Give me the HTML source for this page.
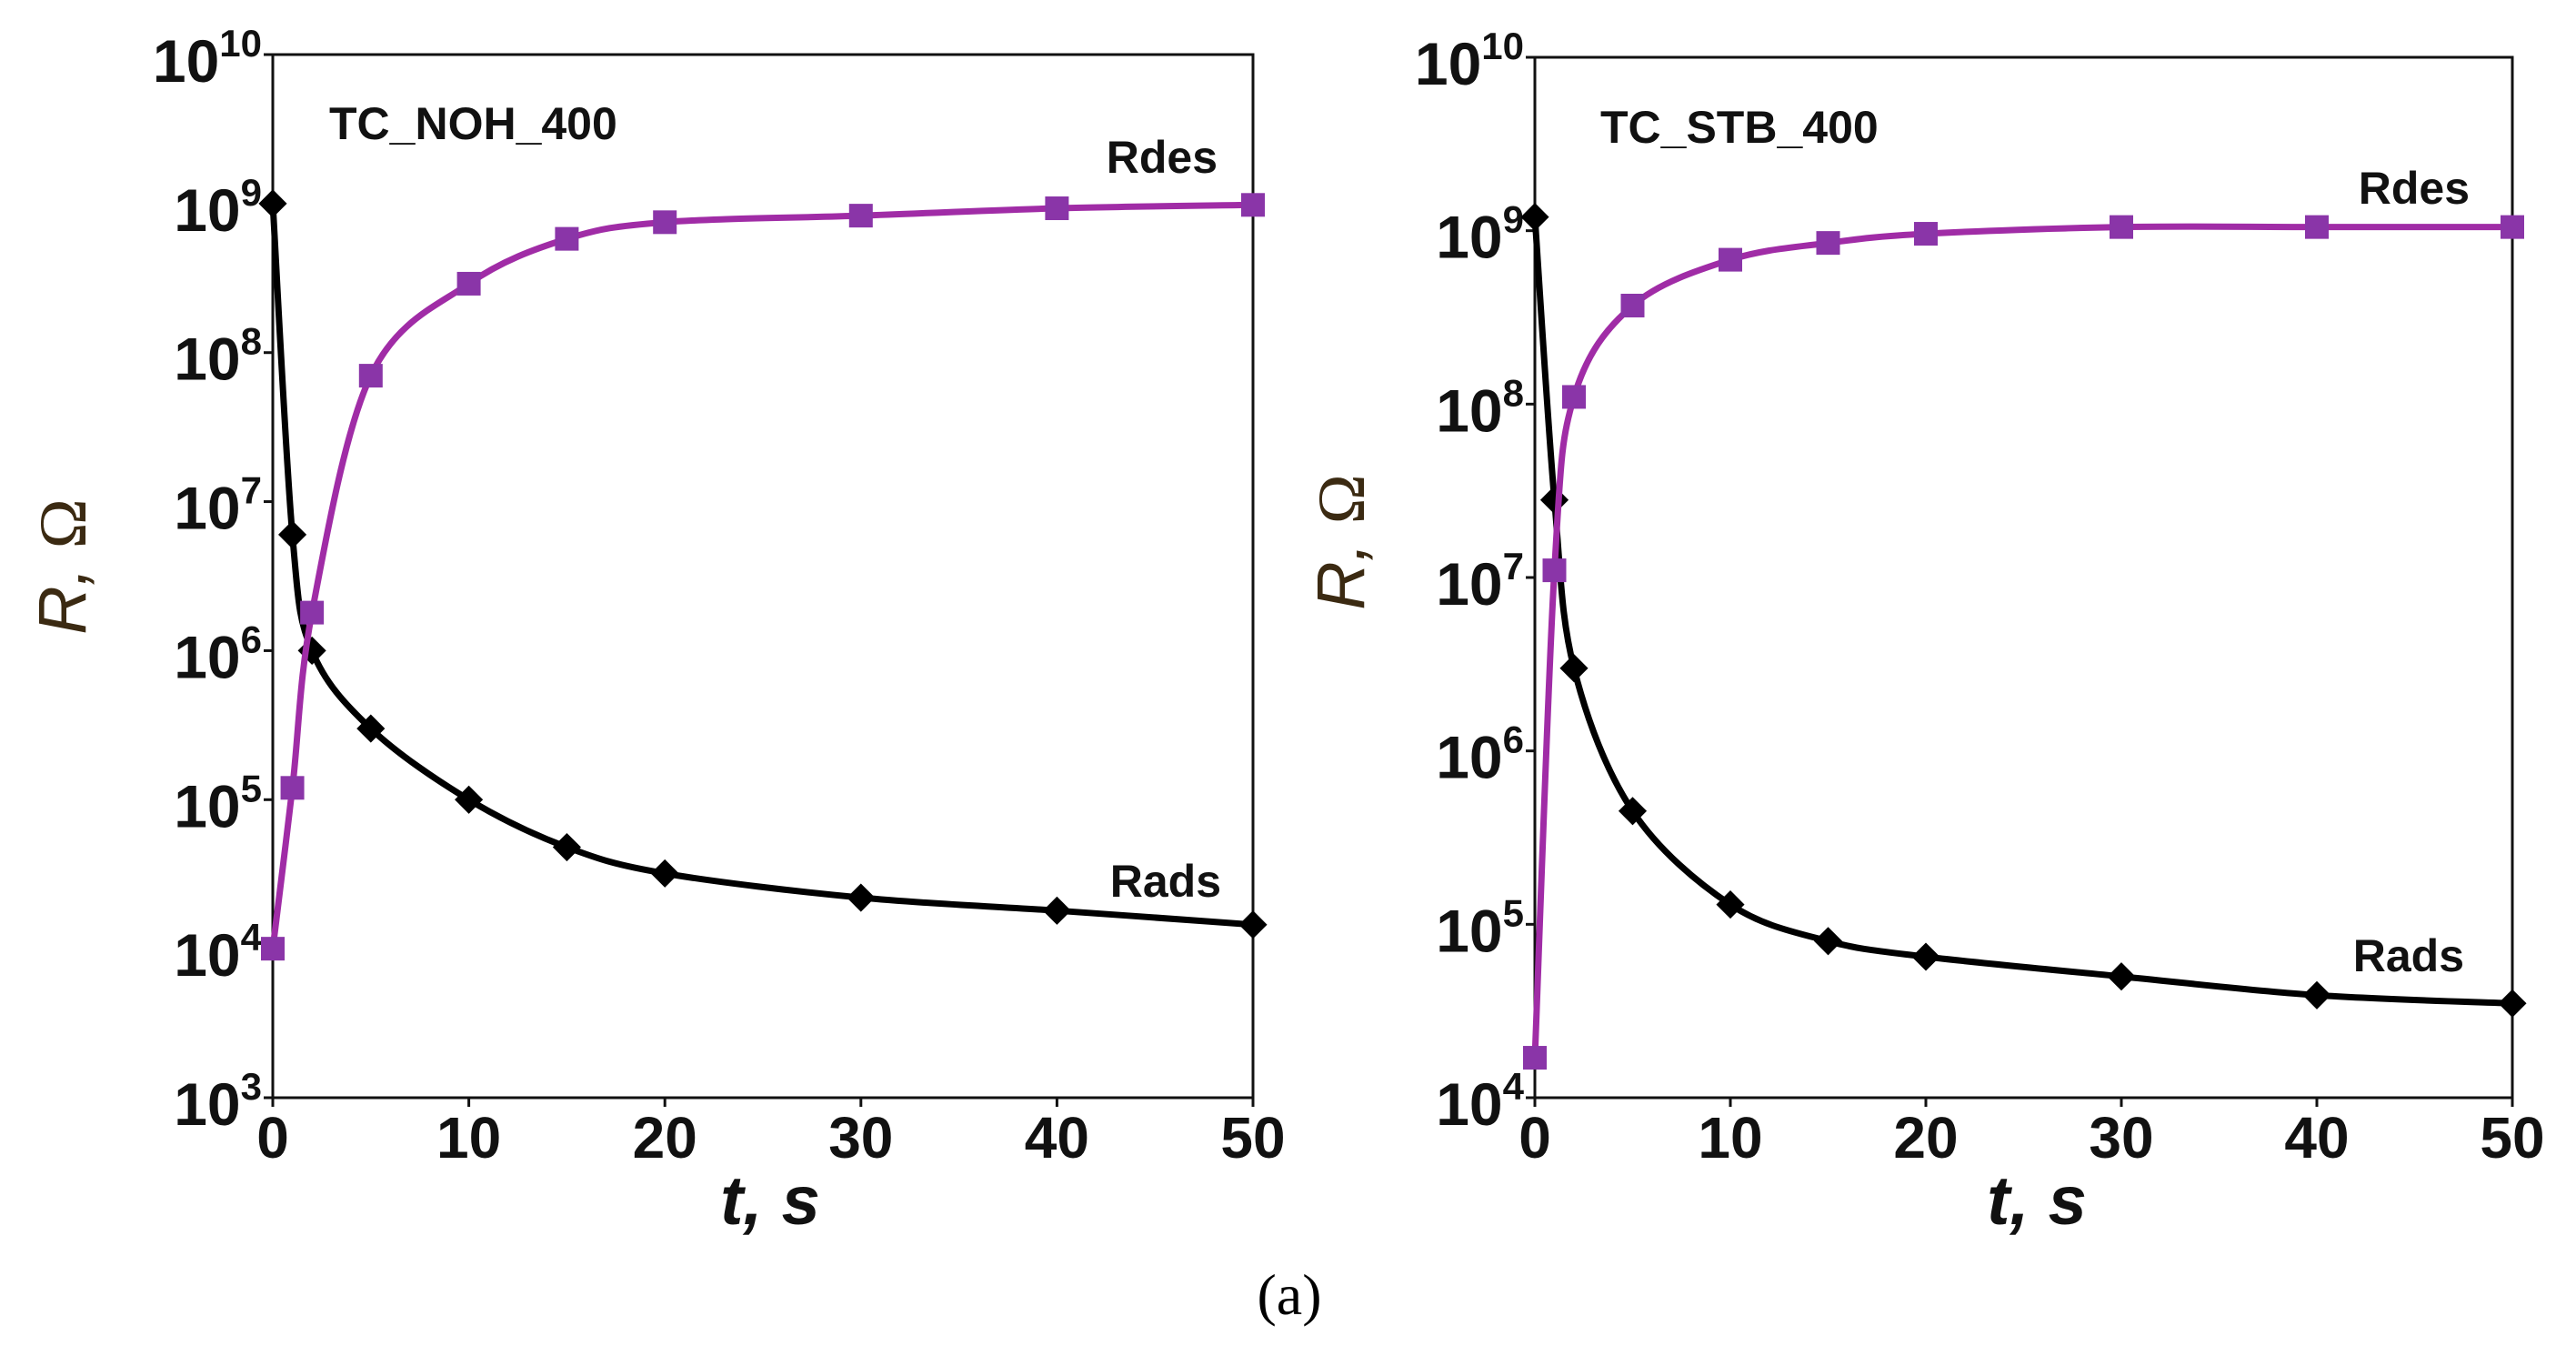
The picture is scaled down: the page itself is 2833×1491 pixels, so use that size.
<!DOCTYPE html>
<html><head><meta charset="utf-8"><style>
body{margin:0;background:#fff;}
svg{display:block;}
text{font-family:"Liberation Sans",sans-serif;}
</style></head><body>
<svg id="fig" width="2833" height="1491" viewBox="0 0 2833 1491" xmlns="http://www.w3.org/2000/svg">
<rect width="2833" height="1491" fill="#fff"/>
<text x="1418" y="1445" font-size="64" text-anchor="middle" style="font-family:'Liberation Serif',serif">(a)</text>
</svg>
<script>
const tVals = [0,1,2,5,10,15,20,30,40,50];
const xTicks = [0,10,20,30,40,50];
const leftRads = [1e9,6e6,1e6,3e5,1e5,4.8e4,3.2e4,2.2e4,1.8e4,1.45e4];
const leftRdes = [1e4,1.2e5,1.8e6,7e7,2.9e8,5.8e8,7.5e8,8.3e8,9.3e8,9.8e8];
const rightRads = [1.2e9,2.8e7,3e6,4.5e5,1.3e5,8e4,6.5e4,5e4,3.9e4,3.5e4];
const rightRdes = [1.7e4,1.1e7,1.1e8,3.7e8,6.8e8,8.5e8,9.6e8,1.05e9,1.05e9,1.05e9];
const leftDecades = [3,4,5,6,7,8,9,10];
const rightDecades = [4,5,6,7,8,9,10];

const NS='http://www.w3.org/2000/svg';
const svg=document.getElementById('fig');
function mk(tag,attrs,parent){const e=document.createElementNS(NS,tag);for(const k in attrs)e.setAttribute(k,attrs[k]);(parent||svg).appendChild(e);return e;}

function smooth(pts){
  let d='M'+pts[0][0]+','+pts[0][1];
  for(let i=0;i<pts.length-1;i++){
    const p0=pts[Math.max(0,i-1)],p1=pts[i],p2=pts[i+1],p3=pts[Math.min(pts.length-1,i+2)];
    const c1x=p1[0]+(p2[0]-p0[0])/6,c1y=p1[1]+(p2[1]-p0[1])/6;
    const c2x=p2[0]-(p3[0]-p1[0])/6,c2y=p2[1]-(p3[1]-p1[1])/6;
    d+=' C'+c1x+','+c1y+' '+c2x+','+c2y+' '+p2[0]+','+p2[1];
  }
  return d;
}

function panel(cfg){
  const g=mk('g',{});
  
  
  const x0=cfg.x0,x1=cfg.x1,y0=cfg.y0,y1=cfg.y1;
  const dmin=cfg.decades[0],dmax=cfg.decades[cfg.decades.length-1];
  const xs=t=>x0+(t/50)*(x1-x0);
  const ys=v=>y1-(Math.log10(v)-dmin)/(dmax-dmin)*(y1-y0);
  const frame=mk('rect',{x:x0,y:y0,width:x1-x0,height:y1-y0,fill:'none',stroke:'#111','stroke-width':3},g);
  
  
  cfg.decades.forEach(d=>{
    const y=(y1-(d-dmin)/(dmax-dmin)*(y1-y0));
    mk('line',{x1:x0-10,x2:x0,y1:y,y2:y,stroke:'#111','stroke-width':3},g);
    const tx=mk('text',{x:x0-12,y:y+30,'font-size':66,'font-weight':'bold','text-anchor':'end',fill:'#111'},g);
    
    
    const a=mk('tspan',{},tx);a.textContent='10';
    const b=mk('tspan',{dy:-28,'font-size':42},tx);b.textContent=String(d);
  });
  xTicks.forEach(t=>{
    const x=xs(t);
    mk('line',{x1:x,x2:x,y1:y1,y2:y1+10,stroke:'#111','stroke-width':3},g);
    const tx=mk('text',{x:x,y:y1+66,'font-size':64,'font-weight':'bold','text-anchor':'middle',fill:'#111'},g);
    
    
    tx.textContent=t;
  });
  const xt=mk('text',{x:cfg.xtx,y:1346,'font-size':76,'font-weight':'bold','font-style':'italic','text-anchor':'middle',fill:'#111'},g);
  
  
  xt.textContent='t, s';
  const yt=mk('text',{x:0,y:0,'font-size':74,'text-anchor':'middle',fill:'#3b2a12',transform:'translate('+cfg.ytx+','+cfg.yty+') rotate(-90)'},g);
  
  
  const r=mk('tspan',{'font-style':'italic'},yt);r.textContent='R, ';
  const o=mk('tspan',{style:"font-family:'Liberation Serif',serif"},yt);o.textContent='Ω';
  const lab=mk('text',{x:cfg.lbl[0],y:cfg.lbl[1],'font-size':50,'font-weight':'bold',fill:'#111'},g);
  
  
  lab.textContent=cfg.label;
  const rd=mk('text',{x:cfg.rdes[0],y:cfg.rdes[1],'font-size':50,'font-weight':'bold','text-anchor':'end',fill:'#111'},g);
  
  
  rd.textContent='Rdes';
  const ra=mk('text',{x:cfg.rads[0],y:cfg.rads[1],'font-size':50,'font-weight':'bold','text-anchor':'end',fill:'#111'},g);
  
  
  ra.textContent='Rads';
  const adsPts=tVals.map((t,i)=>[xs(t),ys(cfg.ads[i])]);
  const desPts=tVals.map((t,i)=>[xs(t),ys(cfg.des[i])]);
  const l1=mk('path',{d:smooth(adsPts),fill:'none',stroke:'#000','stroke-width':7},g);
  
  
  adsPts.forEach(p=>{
    const m=mk('rect',{x:p[0]-11,y:p[1]-11,width:22,height:22,fill:'#000',transform:'rotate(45 '+p[0]+' '+p[1]+')'},g);
    
    
  });
  const l2=mk('path',{d:smooth(desPts),fill:'none',stroke:'#a02ca6','stroke-width':7},g);
  
  
  desPts.forEach(p=>{
    const m=mk('rect',{x:p[0]-13,y:p[1]-13,width:26,height:26,fill:'#8a35a8'},g);
    
    
  });
}
panel({name:'left-chart',x0:300,x1:1378,y0:60,y1:1207,decades:leftDecades,ads:leftRads,des:leftRdes,
  xtx:847,ytx:94,yty:623,label:'TC_NOH_400',lbl:[362,153],rdes:[1339,190],rads:[1343,986]});
panel({name:'right-chart',x0:1688,x1:2763,y0:63,y1:1207,decades:rightDecades,ads:rightRads,des:rightRdes,
  xtx:2240,ytx:1500,yty:596,label:'TC_STB_400',lbl:[1760,157],rdes:[2716,224],rads:[2710,1068]});
</script>
</body></html>
